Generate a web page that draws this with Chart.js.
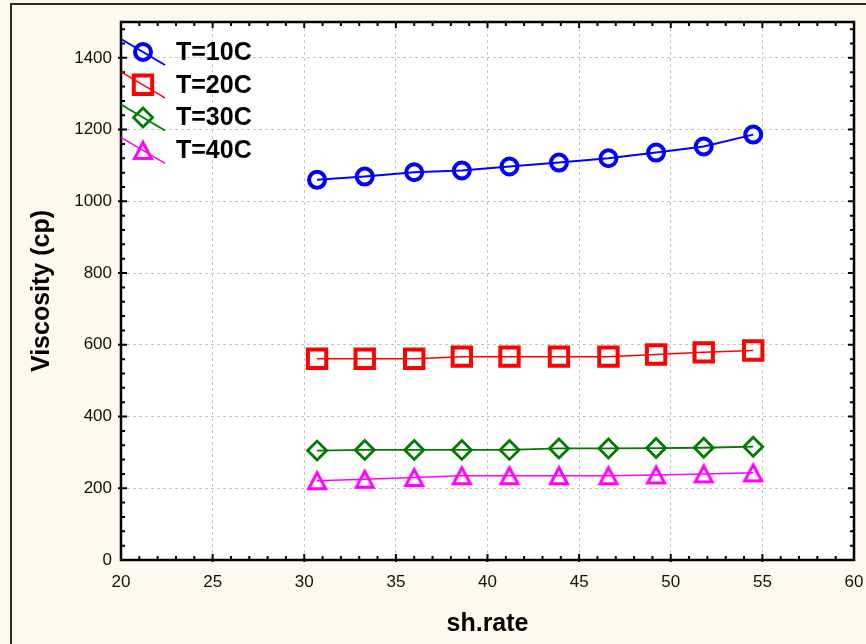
<!DOCTYPE html>
<html>
<head>
<meta charset="utf-8">
<script src="https://cdn.jsdelivr.net/npm/chart.js@4/dist/chart.umd.min.js"></script>
<style>
  html, body { margin: 0; padding: 0; background: #fdf9ee; }
  #wrap { width: 866px; height: 644px; position: relative; }
  canvas { display: block; }
</style>
</head>
<body>
<div id="wrap"><canvas id="c" width="866" height="644"></canvas></div>
<script>
// ---- data ----
const shRate = [30.7, 33.3, 36.0, 38.6, 41.2, 43.9, 46.6, 49.2, 51.8, 54.5];
const visc10 = [1060, 1069, 1081, 1086, 1097, 1108, 1120, 1136, 1153, 1186];
const visc20 = [561, 561, 561, 567, 567, 567, 567, 573, 579, 584];
const visc30 = [305, 307, 307, 307, 307, 311, 311, 312, 313, 316];
const visc40 = [221, 225, 230, 235, 235, 235, 235, 237, 240, 243];
const seriesLabels = ['T=10C', 'T=20C', 'T=30C', 'T=40C'];
const xTitle = 'sh.rate';
const yTitle = 'Viscosity (cp)';

const pts = (ys) => shRate.map((x, i) => ({ x: x, y: ys[i] }));

// hollow triangle marker (taller, centred on its bounding box)
function makeTriangle(color, w, h, lw) {
  const c = document.createElement('canvas');
  c.width = w + 4; c.height = h + 4;
  const g = c.getContext('2d');
  g.strokeStyle = color;
  g.lineWidth = lw;
  g.lineJoin = 'miter';
  const cx = c.width / 2, top = 2 + lw / 2, bot = c.height - 2 - lw / 2;
  g.beginPath();
  g.moveTo(cx, top);
  g.lineTo(cx + w / 2 - lw / 2, bot);
  g.lineTo(cx - w / 2 + lw / 2, bot);
  g.closePath();
  g.stroke();
  return c;
}
const triImg = makeTriangle('#ff00ff', 20, 19, 3);

const styles = [
  { color: '#0000ff', pointStyle: 'circle',   radius: 8,   bw: 4,   lw: 2 },
  { color: '#ff0000', pointStyle: 'rect',     radius: 13,  bw: 4,   lw: 1.5 },
  { color: '#007a00', pointStyle: 'rectRot',  radius: 9.5, bw: 2.8, lw: 1.8 },
  { color: '#ff00ff', pointStyle: triImg,     radius: 10,  bw: 3,   lw: 1.5 }
];
const allSeries = [visc10, visc20, visc30, visc40];

const datasets = allSeries.map((s, i) => ({
  label: seriesLabels[i],
  data: pts(s),
  showLine: true,
  tension: 0,
  borderColor: styles[i].color,
  borderWidth: styles[i].lw,
  pointStyle: styles[i].pointStyle,
  pointRadius: styles[i].radius,
  pointBorderWidth: styles[i].bw,
  pointBorderColor: styles[i].color,
  pointBackgroundColor: 'rgba(0,0,0,0)',
  pointHoverRadius: styles[i].radius
}));

function drawMarker(ctx, st, x, y) {
  ctx.save();
  if (typeof st.pointStyle !== 'string') {
    const im = st.pointStyle;
    ctx.drawImage(im, x - im.width / 2, y - im.height / 2);
    ctx.restore();
    return;
  }
  ctx.strokeStyle = st.color;
  ctx.lineWidth = st.bw;
  ctx.beginPath();
  const r = st.radius;
  if (st.pointStyle === 'circle') {
    ctx.arc(x, y, r, 0, Math.PI * 2);
  } else if (st.pointStyle === 'rect') {
    const s = r * Math.SQRT1_2;
    ctx.rect(x - s, y - s, 2 * s, 2 * s);
  } else {
    ctx.moveTo(x, y - r); ctx.lineTo(x + r, y); ctx.lineTo(x, y + r); ctx.lineTo(x - r, y); ctx.closePath();
  }
  ctx.stroke();
  ctx.restore();
}

const framePlugin = {
  id: 'frame',
  beforeDraw(chart) {
    const ctx = chart.ctx;
    const a = chart.chartArea;
    ctx.save();
    ctx.fillStyle = '#fdf9ee';
    ctx.fillRect(0, 0, chart.width, chart.height);
    ctx.strokeStyle = '#2a2a2a';
    ctx.lineWidth = 2;
    ctx.beginPath();
    ctx.moveTo(11, chart.height);
    ctx.lineTo(11, 4);
    ctx.lineTo(chart.width, 4);
    ctx.stroke();
    ctx.fillStyle = '#ffffff';
    ctx.fillRect(a.left, a.top, a.right - a.left, a.bottom - a.top);
    ctx.restore();
  },
  afterDatasetsDraw(chart) {
    const ctx = chart.ctx;
    const a = chart.chartArea;
    const xs = chart.scales.x, ys = chart.scales.y;
    ctx.save();
    ctx.strokeStyle = '#000';
    ctx.lineWidth = 2;
    ctx.beginPath();
    for (let v = 21; v < 60; v++) {
      const px = xs.getPixelForValue(v);
      const major = v % 5 === 0;
      const L = major ? 6 : 4;
      ctx.moveTo(px, a.bottom + (major ? 2 : 0)); ctx.lineTo(px, a.bottom - L);
      ctx.moveTo(px, a.top); ctx.lineTo(px, a.top + L);
    }
    for (let v = 40; v < 1500; v += 40) {
      const py = ys.getPixelForValue(v);
      const major = v % 200 === 0;
      const L = major ? 6 : 4;
      ctx.moveTo(a.left - (major ? 3 : 0), py); ctx.lineTo(a.left + L, py);
      ctx.moveTo(a.right, py); ctx.lineTo(a.right - L, py);
    }
    ctx.stroke();
    ctx.lineWidth = 2.5;
    ctx.strokeRect(a.left, a.top, a.right - a.left, a.bottom - a.top);
    ctx.restore();

    // legend
    ctx.save();
    const rowY0 = a.top + 30;
    const rowDy = 32.8;
    chart.data.datasets.forEach((ds, i) => {
      const st = styles[i];
      const y = rowY0 + i * rowDy;
      ctx.strokeStyle = st.color;
      ctx.lineWidth = st.lw;
      ctx.beginPath();
      ctx.moveTo(a.left, y - 13);
      ctx.lineTo(a.left + 44, y + 13);
      ctx.stroke();
      drawMarker(ctx, st, a.left + 22, y);
      ctx.fillStyle = '#000';
      ctx.font = 'bold 25px "Liberation Sans", Arial, sans-serif';
      ctx.textBaseline = 'middle';
      ctx.textAlign = 'left';
      ctx.fillText(ds.label, a.left + 55, y + 1);
    });
    ctx.restore();
  }
};

const tickFont = { family: '"Liberation Sans", Arial, sans-serif', size: 17 };
const titleFont = { family: '"Liberation Sans", Arial, sans-serif', size: 25, weight: 'bold' };

new Chart(document.getElementById('c'), {
  type: 'scatter',
  data: { datasets: datasets },
  options: {
    responsive: false,
    animation: false,
    layout: { autoPadding: false, padding: { left: 0, top: 22, right: 12, bottom: 0 } },
    plugins: { legend: { display: false }, tooltip: { enabled: false } },
    scales: {
      x: {
        type: 'linear',
        min: 20, max: 60,
        ticks: { stepSize: 5, padding: 12, color: '#111', font: tickFont,
                 callback: (v) => String(v) },
        grid: { color: '#c4c4c4', lineWidth: 1, drawTicks: false },
        border: { display: false, dash: [3, 3] },
        title: { display: true, text: xTitle, color: '#000', font: titleFont,
                 padding: { top: 0, bottom: 5 } },
        afterFit(scale) { scale.height = 84; scale.paddingLeft = 0; scale.paddingRight = 0; }
      },
      y: {
        type: 'linear',
        min: 0, max: 1500,
        ticks: { stepSize: 200, padding: 9, color: '#111', font: tickFont,
                 callback: (v) => String(v) },
        afterBuildTicks(scale) { scale.ticks = scale.ticks.filter(t => t.value % 200 === 0); },
        grid: { color: '#c4c4c4', lineWidth: 1, drawTicks: false },
        border: { display: false, dash: [3, 3] },
        title: { display: true, text: yTitle, color: '#000', font: titleFont,
                 padding: { top: 27, bottom: 0 } },
        afterFit(scale) { scale.width = 121; scale.paddingTop = 0; scale.paddingBottom = 0; }
      }
    }
  },
  plugins: [framePlugin]
});
</script>
</body>
</html>
